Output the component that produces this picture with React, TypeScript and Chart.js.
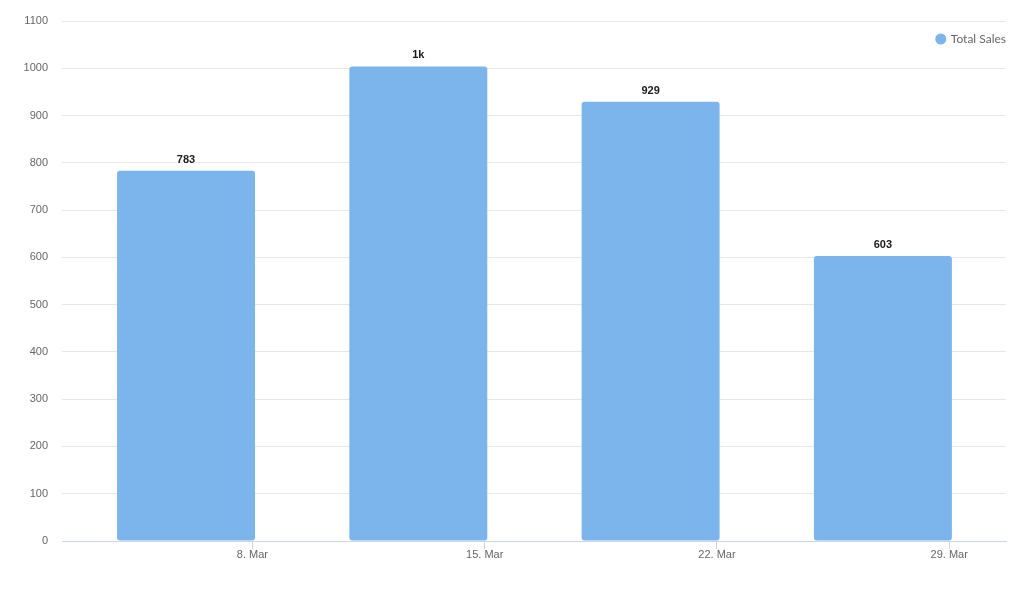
import React, { useEffect, useRef } from "react";
import { Chart, registerables } from "chart.js";

Chart.register(...registerables);

const dateLabels: string[] = ["8. Mar", "15. Mar", "22. Mar", "29. Mar"];
const barPositions: number[] = [0, 1, 2, 3];
const tickPositions: number[] = [0.2857, 1.2857, 2.2857, 3.2857];
const totalSales: number[] = [783, 1004, 929, 603];
const seriesName = "Total Sales";

const fmt = (v: number) => (v >= 1000 ? `${Math.round(v / 1000)}k` : `${v}`);

const dataLabelPlugin = {
  id: "dataLabels",
  afterDatasetsDraw(chart: any) {
    const ctx = chart.ctx;
    chart.data.datasets.forEach((ds: any, di: number) => {
      const meta = chart.getDatasetMeta(di);
      meta.data.forEach((bar: any, i: number) => {
        const v = ds.data[i].y;
        const text = fmt(v);
        ctx.save();
        ctx.font = "bold 11px 'Liberation Sans', Arial, sans-serif";
        ctx.textAlign = "center";
        ctx.textBaseline = "middle";
        ctx.lineJoin = "round";
        ctx.lineWidth = 2;
        ctx.strokeStyle = "#ffffff";
        ctx.strokeText(text, bar.x, bar.y - 11);
        ctx.fillStyle = "#1a1a1a";
        ctx.fillText(text, bar.x, bar.y - 11);
        ctx.restore();
      });
    });
  },
};

const floatingLegendPlugin = {
  id: "floatingLegend",
  afterDraw(chart: any) {
    const ctx = chart.ctx;
    const area = chart.chartArea;
    let right = area.right;
    const y = area.top + 18;
    ctx.save();
    ctx.font = "12px Lato, 'Open Sans', sans-serif";
    ctx.textBaseline = "middle";
    ctx.textAlign = "left";
    chart.data.datasets.forEach((ds: any) => {
      const label = ds.label as string;
      const w = ctx.measureText(label).width;
      const textX = right - w;
      ctx.fillStyle = "#666666";
      ctx.fillText(label, textX, y);
      ctx.beginPath();
      ctx.arc(textX - 10, y, 5.5, 0, Math.PI * 2);
      ctx.fillStyle = ds.backgroundColor;
      ctx.fill();
      right = textX - 30;
    });
    ctx.restore();
  },
};

export default function App() {
  const ref = useRef<HTMLCanvasElement | null>(null);
  useEffect(() => {
    document.body.style.margin = "0";
    const canvas = ref.current!;
    const chart = new Chart(canvas, {
      type: "bar",
      data: {
        datasets: [
          {
            label: seriesName,
            data: totalSales.map((v, i) => ({ x: barPositions[i], y: v })),
            backgroundColor: "#7cb5ec",
            borderWidth: 0,
            borderRadius: 3,
            borderSkipped: false,
            barPercentage: 0.594,
            categoryPercentage: 1,
          },
        ],
      },
      options: {
        animation: false,
        responsive: false,
        maintainAspectRatio: false,
        layout: { padding: { top: 21, right: 16, bottom: 0, left: 0 } },
        plugins: {
          tooltip: { enabled: false },
          legend: { display: false },
        },
        scales: {
          x: {
            type: "linear",
            offset: false,
            min: -0.534,
            max: 3.53,
            afterBuildTicks: (scale: any) => {
              scale.ticks = tickPositions.map((v) => ({ value: v }));
            },
            afterFit: (scale: any) => {
              scale.height = 60;
            },
            ticks: {
              autoSkip: false,
              maxRotation: 0,
              padding: -1,
              color: "#666666",
              font: { family: "'Liberation Sans', Arial, sans-serif", size: 11 },
              callback: (_v: any, idx: number) => dateLabels[idx],
            },
            grid: {
              offset: false,
              drawOnChartArea: false,
              drawTicks: true,
              tickLength: 8,
              color: "#ccd6eb",
            },
            border: { display: true, color: "#ccd6eb", width: 1 },
          },
          y: {
            min: 0,
            max: 1100,
            afterFit: (scale: any) => {
              scale.width = 62;
            },
            ticks: {
              stepSize: 100,
              padding: 14,
              color: "#666666",
              font: { family: "'Liberation Sans', Arial, sans-serif", size: 11 },
              callback: (v: any) => String(v),
            },
            grid: { color: "#e6e6e6", drawTicks: false },
            border: { display: false },
          },
        },
      },
      plugins: [dataLabelPlugin, floatingLegendPlugin],
    });
    return () => chart.destroy();
  }, []);
  return (
    <div style={{ width: 1022, height: 601, background: "#ffffff" }}>
      <canvas ref={ref} width={1022} height={601} />
    </div>
  );
}
